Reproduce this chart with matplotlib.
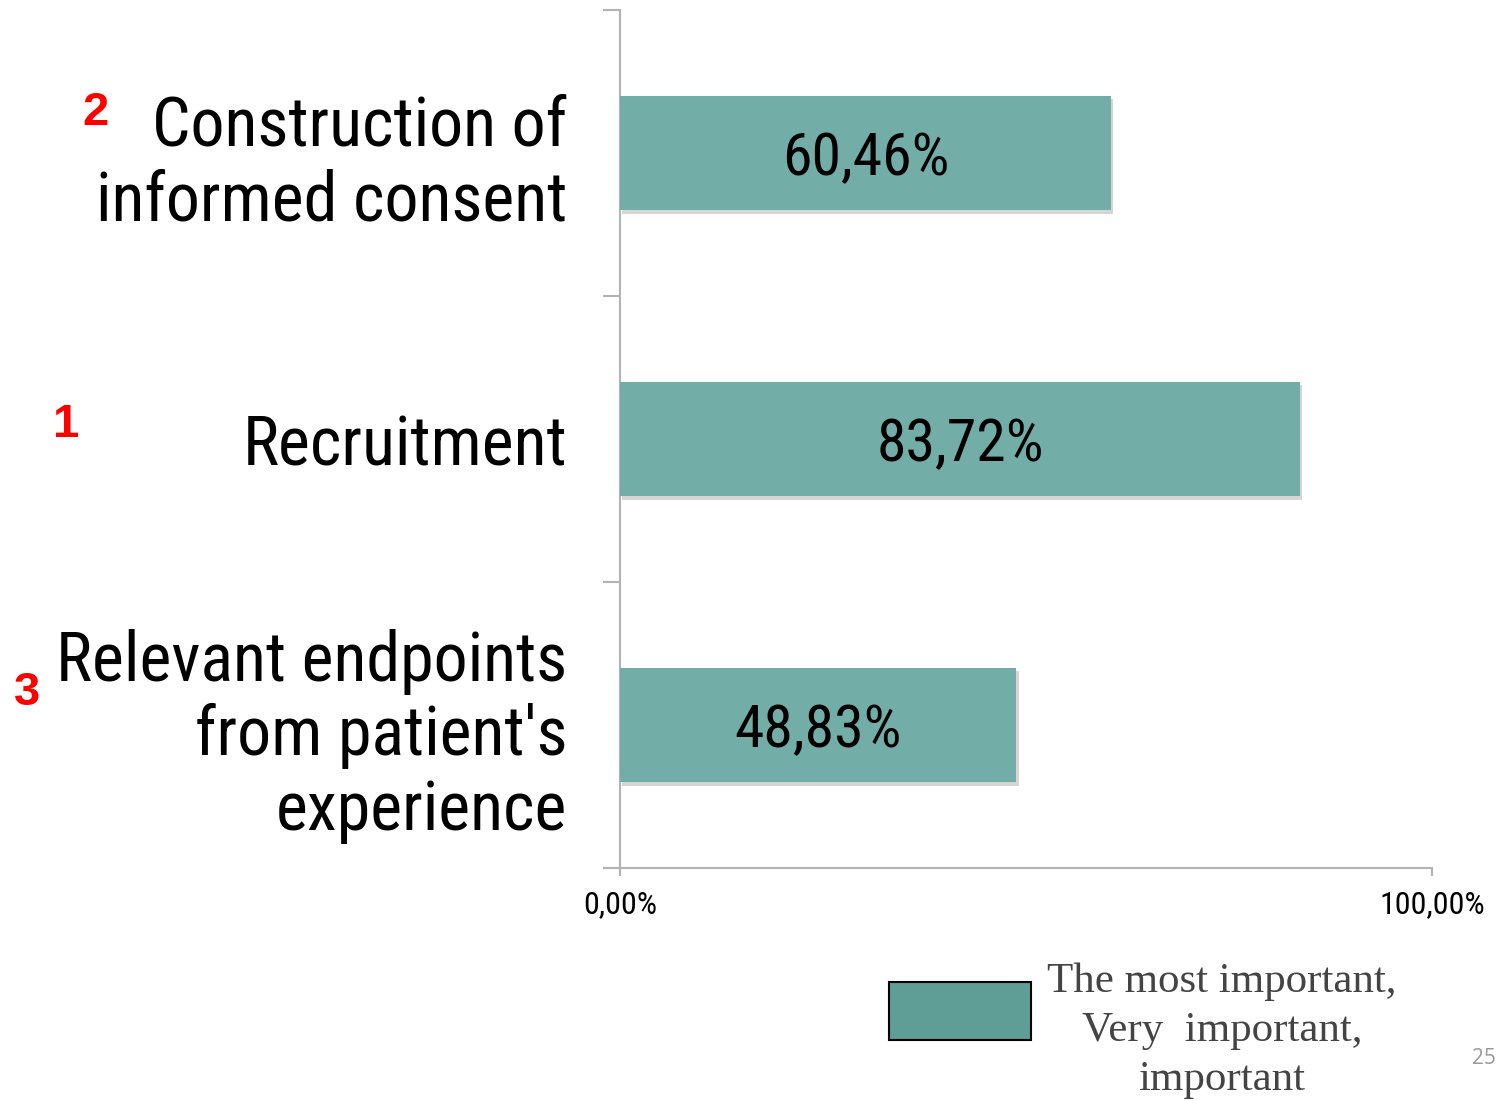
import matplotlib.pyplot as plt
import matplotlib.patheffects as pe
from matplotlib.patches import Rectangle

categories = ["Construction of\ninformed consent", "Recruitment",
              "Relevant endpoints\nfrom patient's\nexperience"]
values = [60.46, 83.72, 48.83]
value_labels = ["60,46%", "83,72%", "48,83%"]
ranks = ["2", "1", "3"]
xtick_labels = ["0,00%", "100,00%"]
legend_text = "The most important,\nVery  important,\nimportant"

bar_color = "#72ADA8"
spine_color = "#B3B3B3"
narrow = ["Roboto Condensed", "PT Sans Narrow", "DejaVu Sans"]

fig = plt.figure(figsize=(15, 11.01), dpi=100)
ax = fig.add_axes([620 / 1500, 1 - 868 / 1101, 812 / 1500, 858 / 1101])

pos = [i + 0.5 for i in range(len(values))]
bars = ax.barh(pos, values, height=0.4, color=bar_color, zorder=3)
for b in bars:
    b.set_path_effects([pe.SimplePatchShadow(offset=(1.5, -2.5), shadow_rgbFace="#888888", alpha=0.35),
                        pe.Normal()])

for p, v, lab in zip(pos, values, value_labels):
    ax.text(v / 2, p, lab, ha="center", va="center_baseline", fontsize=43,
            family=narrow, color="black", zorder=4)

ax.set_xlim(0, 100)
ax.set_ylim(len(values), 0)

# category boundaries as major ticks, labels as minor ticks
ax.set_yticks(range(len(values) + 1))
ax.set_yticklabels([])
ax.set_yticks(pos, minor=True)
ax.set_yticklabels(categories, minor=True, fontsize=49, family=narrow,
                   linespacing=1.17)
ax.tick_params(axis="y", which="major", length=12, width=1.5, color=spine_color)
ax.tick_params(axis="y", which="minor", length=0, pad=38)

ax.set_xticks([0, 100])
ax.set_xticklabels(xtick_labels, fontsize=23, family=narrow)
ax.tick_params(axis="x", length=6, width=1.5, color=spine_color, pad=10)

for s in ["top", "right"]:
    ax.spines[s].set_visible(False)
for s in ["left", "bottom"]:
    ax.spines[s].set_color(spine_color)
    ax.spines[s].set_linewidth(1.5)

# red rank numbers next to the labels
rank_xy = [(95, 113), (66, 425), (27, 693)]
for r, (px, py) in zip(ranks, rank_xy):
    fig.text(px / 1500, 1 - py / 1101, r, color="#FF0000", fontsize=34,
             fontweight="bold", family=["Liberation Sans", "DejaVu Sans"],
             ha="center", va="center")

# legend
fig.patches.append(Rectangle((889 / 1500, 1 - 1040 / 1101), 142 / 1500, 58 / 1101,
                             transform=fig.transFigure, facecolor="#5F9E96",
                             edgecolor="black", linewidth=1.5))
fig.text(1222 / 1500, 1 - 1031 / 1101, legend_text, ha="center", va="center",
         multialignment="center", fontsize=31, color="#444444",
         family=["Liberation Serif", "DejaVu Serif"], linespacing=1.36)

fig.text(1484 / 1500, 1 - 1059 / 1101, "25", ha="center", va="center",
         fontsize=15, color="#999999", family=["Open Sans", "DejaVu Sans"])

fig.savefig("out.png", dpi=100)
